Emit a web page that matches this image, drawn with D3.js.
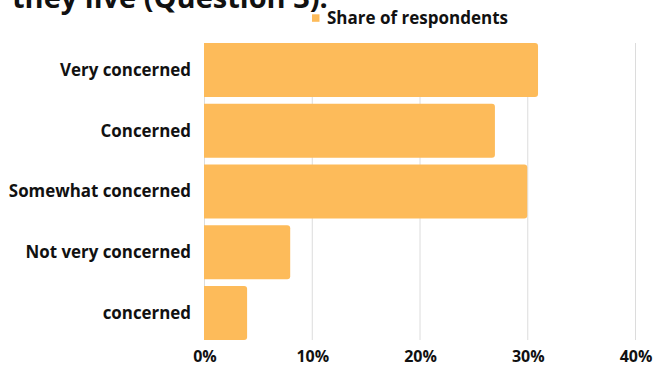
<!DOCTYPE html>
<html>
<head>
<meta charset="utf-8">
<script src="https://cdn.jsdelivr.net/npm/d3@7"></script>
<style>
  html, body { margin: 0; padding: 0; background: #fff; }
  svg { display: block; font-family: "Open Sans", "Noto Sans", sans-serif; }
</style>
</head>
<body>
<svg id="chart" width="658" height="367"></svg>
<script>
const categories = ["Very concerned", "Concerned", "Somewhat concerned", "Not very concerned", "concerned"];
const shareValues = [31, 27, 30, 8, 4];
const tickValues = [0, 10, 20, 30, 40];
const seriesName = "Share of respondents";
const titleText = "they live (Question 3):";

const svg = d3.select("#chart");
const plot = { left: 204, right: 635, top: 43, bottom: 340 };
const barColor = "#FDBB5A";
const textColor = "#111";

const x = d3.scaleLinear().domain([0, 40]).range([plot.left, plot.right]);
const y = d3.scaleBand().domain(categories).range([plot.top, plot.bottom])
  .paddingInner(0.11).paddingOuter(0);

// title, its upper part runs above the top edge
svg.append("text")
  .attr("x", 12).attr("y", 7.5)
  .attr("font-size", 29).attr("font-weight", 700).attr("fill", textColor)
  .text(titleText);

// legend
svg.append("rect").attr("x", 312).attr("y", 14.3).attr("width", 7.5).attr("height", 7.5).attr("fill", barColor);
svg.append("text").attr("x", 327).attr("y", 23.5)
  .attr("font-size", 17).attr("font-weight", 700).attr("fill", textColor)
  .text(seriesName);

// vertical grid
svg.append("g")
  .selectAll("line").data(tickValues).join("line")
  .attr("x1", d => x(d) + 0.5).attr("x2", d => x(d) + 0.5)
  .attr("y1", plot.top).attr("y2", plot.bottom)
  .attr("stroke", "#dcdcdc").attr("stroke-width", 1);

// bars, rounded at the value end
const r = 3;
svg.append("g")
  .selectAll("path").data(categories).join("path")
  .attr("fill", barColor)
  .attr("d", (c, i) => {
    const x0 = x(0), x1 = x(shareValues[i]);
    const y0 = y(c), h = y.bandwidth();
    return `M${x0},${y0}H${x1 - r}Q${x1},${y0} ${x1},${y0 + r}V${y0 + h - r}Q${x1},${y0 + h} ${x1 - r},${y0 + h}H${x0}Z`;
  });

// category labels
const yAxis = svg.append("g").attr("transform", `translate(${plot.left},0.5)`)
  .call(d3.axisLeft(y).tickSize(0).tickPadding(13));
yAxis.select(".domain").remove();
yAxis.selectAll("text").attr("font-size", 16.9).attr("font-weight", 700).attr("fill", textColor)
  .attr("font-family", "'Open Sans', sans-serif");

// value axis
const xAxis = svg.append("g").attr("transform", `translate(0.5,${plot.bottom})`)
  .call(d3.axisBottom(x).tickValues(tickValues).tickFormat(d => d + "%").tickSize(0).tickPadding(11));
xAxis.select(".domain").remove();
xAxis.selectAll("text").attr("font-size", 16).attr("font-weight", 700).attr("fill", textColor)
  .attr("font-family", "'Open Sans', sans-serif");
</script>
</body>
</html>
